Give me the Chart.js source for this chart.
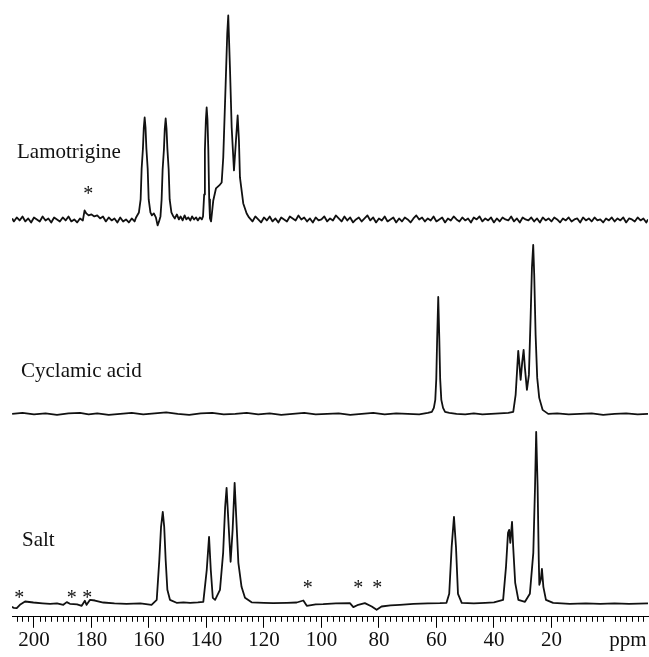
<!DOCTYPE html>
<html>
<head>
<meta charset="utf-8">
<script src="https://cdn.jsdelivr.net/npm/chart.js@4.4.1/dist/chart.umd.min.js"></script>
<style>
  html, body { margin: 0; padding: 0; background: #fff; }
  #wrap { width: 649px; height: 657px; }
</style>
</head>
<body>
<div id="wrap"><canvas id="c" width="649" height="657"></canvas></div>
<script>
// chemical shift range shown on the axis (ppm, axis is reversed)
const PPM_MIN = -13.6;
const PPM_MAX = 207.65;
const TICK_LABELS = [200, 180, 160, 140, 120, 100, 80, 60, 40, 20];
const PPM_LABEL_AT = -6.6;

const SERIES_NAMES = ["Lamotrigine", "Cyclamic acid", "Salt"];
// vertical stacking of the three traces
const OFFSETS = [397.5, 203, 13];

// [ppm, intensity]
const lamotrigine = [
  [207.6,1],[207,-2],[206,2],[205,-1],[204,3],[203,-2],[202,1],[201,-3],[200,2],[199,0],
  [198,-2],[197,3],[196,-1],[195,1],[194,-3],[193,2],[192,0],[191,-2],[190,2],[189,-1],
  [188,3],[187,-2],[186,0],[185,-3],[184,1],[183,-1],[182.4,9],[181.8,6],[181,4],[180,5],
  [179,3],[178,4],[177,1],[176,3],[175,-2],[174,2],[173,-1],[172,1],[171,-3],[170,2],
  [169,-2],[168,0],[167,-3],[166,1],[165,-2],
  [164.5,2],[163.5,7],[162.9,20],[162.55,51],[162.1,71],[161.8,92],[161.5,102],[161.2,92],
  [160.9,71],[160.45,51],[160.1,20],[159.5,7],[159,4],[158.3,6],[157.6,2],[157,-6],
  [156.5,-2],[156,3],
  [155.6,20],[155.25,50],[154.8,70],[154.5,91],[154.19,101],[153.9,91],[153.6,71],
  [153.15,50],[152.8,20],[152.2,7],[151.7,4],[151,1],[150.3,5],[149.6,0],[149,3],
  [148.3,-1],[147.6,4],[147,0],[146.3,2],[145.6,-1],[145,3],[144.3,0],[143.6,2],[143,-1],
  [142.3,2],[141.6,0],
  [141.2,3],[140.8,25],[140.55,69],[140.2,100],[139.93,112],[139.65,100],[139.35,69],
  [139.05,20],[138.78,1],[138.4,-2],[137.63,19],[136.7,31],[135.55,34],[134.71,37],
  [134.16,62],[133.32,136],[132.77,186],[132.42,204],[131.83,152],[131.23,92],[130.43,49],
  [129.74,79],[129.15,104],[128.7,79],[128.35,42],[127.2,16],[126.02,6],[125.2,2],
  [124,-2],[123,3],[122,0],[121,-3],[120,2],[119,-1],[118,3],[117,-2],[116,1],[115,-3],
  [114,2],[113,0],[112,-2],[111,3],[110,1],[109,-1],[108,4],[107,0],[106,2],[105,-2],
  [104,1],[103,-3],[102,2],[101,-1],[100,0],[99,3],[98,-2],[97,1],[96,-1],[95,4],
  [94,1],[93,-2],[92,3],[91,-1],[90,2],[89,-3],[88,0],[87,2],[86,-2],[85,1],
  [84,4],[83,-1],[82,2],[81,-3],[80,1],[79,-1],[78,3],[77,-2],[76,0],[75,2],
  [74,-3],[73,1],[72,-2],[71,2],[70,0],[69,-3],[68,1],[67,4],[66,0],[65,2],
  [64,-2],[63,1],[62,-1],[61,3],[60,-2],[59,0],[58,2],[57,-3],[56,1],[55,-1],
  [54,3],[53,0],[52,-2],[51,2],[50,-1],[49,1],[48,-3],[47,2],[46,0],[45,3],
  [44,-2],[43,1],[42,-1],[41,2],[40,-3],[39,1],[38,-2],[37,2],[36,0],[35,-1],
  [34,3],[33,-2],[32,1],[31,-3],[30,2],[29,0],[28,-1],[27,2],[26,-2],[25,1],
  [24,-3],[23,2],[22,-1],[21,1],[20,-2],[19,2],[18,0],[17,-3],[16,1],[15,-1],
  [14,2],[13,-2],[12,0],[11,1],[10,-3],[9,2],[8,-1],[7,1],[6,-2],[5,2],
  [4,-1],[3,0],[2,-3],[1,1],[0,-1],[-1,2],[-2,-2],[-3,1],[-4,-1],[-5,2],
  [-6,-3],[-7,1],[-8,0],[-9,-2],[-10,2],[-11,-1],[-12,1],[-13,-3],[-13.6,0]
];

const cyclamicAcid = [
  [207.6,0],[204,1],[200,-0.5],[196,0.5],[192,-1],[188,0.5],[184,1],[181,-0.5],[178,0.5],
  [174,-1],[170,0],[166,1],[162,-0.5],[158,0.5],[154,1.5],[150,0],[146,-1],[142,0.5],
  [138,1],[134,-0.5],[130,0],[126,1],[122,-0.5],[118,0.5],[114,-1],[110,0],[106,1],
  [102,-0.5],[98,0],[94,0.5],[90,-1],[86,0],[82,1],[78,-0.5],[74,0.5],[70,0],[66,-0.5],
  [63,1],[61.6,2],[60.9,6],[60.4,14],[60.05,35],[59.75,75],[59.37,117],[59.0,75],
  [58.7,35],[58.3,14],[57.7,6],[57,2],[55.5,1],[53,0],[50,-0.5],[47,0.5],[44,-0.5],
  [41,0],[38,0.5],[35,1],[33.28,2],[32.45,19],[31.89,46],[31.54,63],[31.2,52],[30.71,34],
  [30.15,52],[29.67,64],[29.22,46],[28.52,24],[27.83,39],[27.24,96],[26.78,146],
  [26.33,169],[25.98,139],[25.5,79],[24.94,36],[24.24,16],[23.07,4],[21.11,0],[18,0.5],
  [14,-0.5],[10,0],[6,0.5],[2,-1],[-2,0],[-6,0.5],[-10,-0.5],[-13.6,0]
];

const salt = [
  [207.8,-3],[207,-4],[206,-4.3],[204.9,-1],[203.1,2.3],[200.2,1.3],[197,0.5],[194.4,0],
  [192,0.5],[189.8,-1],[188.6,1.7],[187.5,0],[185,-0.5],[183.4,-2],[182.3,3],[181.7,-1],
  [180.5,4],[178.8,3.3],[175.9,1.3],[172,0.5],[167.8,0],[163,0.5],[159.1,-1],[157.3,4],
  [156.4,44],[155.8,77],[155.2,92],[154.7,77],[154.2,44],[153.6,14],[152.7,4],[150.4,1],
  [148,1.5],[145.7,1],[143,1.5],[141.1,2],[139.9,34],[139.1,67],[138.5,34],[137.8,6],
  [137,4],[135.3,14],[134.2,51],[133.5,97],[133.0,116],[132.4,84],[131.6,42],[130.9,74],
  [130.2,121],[129.6,84],[128.9,41],[127.8,17],[126.6,6],[124.3,1.5],[120,1],[116.8,0.7],
  [112,1],[108.6,1.3],[106.3,3.3],[105.1,-2],[102,-0.5],[99.4,-0.3],[95,0.5],[90.1,0.7],
  [88.9,-3.3],[87.2,-1],[84.9,0.7],[82.5,-2.7],[80.8,-6],[79.1,-2.7],[76,-1.5],[72.7,-1],
  [68,0],[63,0.5],[58.8,0.7],[56.5,1],[55.55,10],[54.7,57],[53.9,87],[53.2,57],[52.5,10],
  [51.2,1],[47,0.5],[43,1],[40,1.5],[36.8,4],[35.8,37],[35.1,71],[34.7,74],[34.3,61],
  [33.7,82],[33.3,57],[32.6,21],[31.5,4],[29.2,2],[27.5,10],[26.3,51],[25.7,117],
  [25.3,172],[24.8,117],[24.4,44],[24.2,19],[23.7,24],[23.3,35],[22.8,17],[21.9,4],
  [19.4,1],[13.6,0],[8,0.5],[3,0],[-2,0.5],[-7,0],[-13.6,0.5]
];

// spinning sideband markers: [ppm, height above the trace baseline]
const lamotrigineStars = [[181.1, 29]];
const saltStars = [[205.1, 10], [186.9, 10], [181.5, 10], [104.8, 20], [87.2, 20], [80.6, 20]];

const SERIF = "'Liberation Serif', 'Times New Roman', serif";
const INK = "#111";

const traces = [lamotrigine, cyclamicAcid, salt];
const datasets = traces.map((pts, i) => ({
  label: SERIES_NAMES[i],
  data: pts.map(([p, v]) => ({ x: p, y: v + OFFSETS[i] })),
  borderColor: INK,
  borderWidth: 1.8,
  borderJoinStyle: "round",
  pointRadius: 0,
  tension: 0,
  fill: false,
}));

const minorTicks = [];
for (let v = -12; v <= 206; v += 2) if (v % 20 !== 0) minorTicks.push(v);

const overlay = {
  id: "overlay",
  afterDraw(chart) {
    const { ctx } = chart;
    const x = chart.scales.x;
    const y = chart.scales.y;
    ctx.save();
    // minor ruler ticks
    ctx.strokeStyle = "#000";
    ctx.lineWidth = 1;
    ctx.beginPath();
    minorTicks.forEach((v) => {
      const px = Math.round(x.getPixelForValue(v)) + 0.5;
      ctx.moveTo(px, x.top);
      ctx.lineTo(px, x.top + 5);
    });
    ctx.stroke();

    ctx.fillStyle = INK;
    ctx.font = "21px " + SERIF;
    ctx.textBaseline = "alphabetic";
    ctx.textAlign = "center";
    ctx.fillText("ppm", x.getPixelForValue(PPM_LABEL_AT), 646);

    // trace names
    ctx.textAlign = "left";
    ctx.fillText(SERIES_NAMES[0], 17, 158);
    ctx.fillText(SERIES_NAMES[1], 21, 377);
    ctx.fillText(SERIES_NAMES[2], 22, 546);

    // asterisks
    ctx.textAlign = "center";
    ctx.font = "20px " + SERIF;
    const star = (list, off) => list.forEach(([p, h]) => {
      ctx.fillText("*", x.getPixelForValue(p), y.getPixelForValue(off + h) + 10);
    });
    star(lamotrigineStars, OFFSETS[0]);
    star(saltStars, OFFSETS[2]);
    ctx.restore();
  },
};

new Chart(document.getElementById("c"), {
  type: "line",
  data: { datasets },
  options: {
    responsive: false,
    animation: false,
    events: [],
    layout: { padding: { left: 12, right: 1, top: 0, bottom: 4 } },
    plugins: { legend: { display: false }, tooltip: { enabled: false } },
    scales: {
      x: {
        type: "linear",
        reverse: true,
        min: PPM_MIN,
        max: PPM_MAX,
        afterBuildTicks: (axis) => { axis.ticks = TICK_LABELS.map((v) => ({ value: v })); },
        border: { display: true, color: "#000", width: 1 },
        grid: { display: true, drawOnChartArea: false, tickLength: 11, tickColor: "#000", tickWidth: 1 },
        ticks: {
          color: INK,
          font: { family: SERIF, size: 21 },
          padding: 0,
          maxRotation: 0,
          autoSkip: false,
          callback: (v) => String(v),
        },
      },
      y: { display: false, min: 0, max: 617 },
    },
  },
  plugins: [overlay],
});
</script>
</body>
</html>
